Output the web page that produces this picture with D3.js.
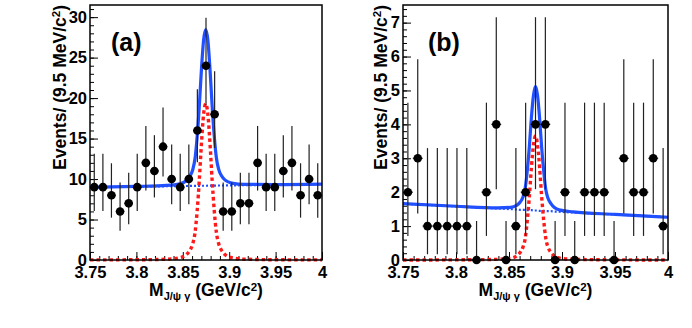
<!DOCTYPE html>
<html><head><meta charset="utf-8">
<script src="https://cdn.jsdelivr.net/npm/d3@7/dist/d3.min.js"></script>
<style>
body{margin:0;background:#fff}
svg{display:block}
text{font-family:"Liberation Sans",Arial,Helvetica,sans-serif;font-weight:bold;fill:#000}
</style>
</head><body>
<svg id="c" width="692" height="328"></svg>
<script>
// ---- bin centres (GeV/c^2), 27 bins over 3.75-4.0 ----
const binCenters = [3.7546,3.7639,3.7731,3.7824,3.7917,3.8009,3.8102,3.8194,3.8287,3.8380,
  3.8472,3.8565,3.8657,3.8750,3.8843,3.8935,3.9028,3.9120,3.9213,3.9306,3.9398,3.9491,
  3.9583,3.9676,3.9769,3.9861,3.9954];
const binWidth = 0.00926;

// ---- panel (a) data ----
const countsA = [9,9,8,6,7,9,12,11,14,10,9,10,16,24,18,6,6,7,7,12,9,9,11,12,8,10,8];
const errLoA  = [6.06,6.06,5.23,3.62,4.42,6.06,8.58,7.73,10.31,6.89,6.06,6.89,12.06,19.16,13.83,3.62,3.62,4.42,4.42,8.58,6.06,6.06,7.73,8.58,5.23,6.89,5.23];
const errHiA  = [13.11,13.11,11.95,9.58,10.77,13.11,16.56,15.42,18.83,14.27,13.11,14.27,21.08,29.94,23.31,9.58,9.58,10.77,10.77,16.56,13.11,13.11,15.42,16.56,11.95,14.27,11.95];

// ---- panel (b) data ----
const countsB = [2,3,1,1,1,1,1,0,2,4,0,1,2,4,4,0,2,0,2,2,2,0,3,2,2,3,1];
const errLoB  = [0.71,1.37,0.17,0.17,0.17,0.17,0.17,0,0.71,2.09,0,0.17,0.71,2.09,2.09,0,0.71,0,0.71,0.71,0.71,0,1.37,0.71,0.71,1.37,0.17];
const errHiB  = [4.64,5.92,3.30,3.30,3.30,3.30,3.30,1.15,4.64,7.16,1.15,3.30,4.64,7.16,7.16,1.15,4.64,1.15,4.64,4.64,4.64,1.15,5.92,4.64,4.64,5.92,3.30];

// ---- fit curves, panel (a) ----
const curveXA = [3.75,3.80,3.8327,3.8467,3.8537,3.8577,3.8607,3.8632,3.8655,3.8678,3.8701,3.8724,3.8747,
  3.8770,3.8793,3.8816,3.8839,3.8862,3.8887,3.8917,3.8957,3.9027,3.9167,3.95,4.0];
const sigA = [0.01,0.03,0.1,0.28,0.65,1.2,2.0,3.4,6.1,9.9,14.4,18.0,19.3,18.0,14.4,9.9,6.1,3.4,2.0,1.2,0.65,0.28,0.1,0.03,0.01];
const bkgA = [8.98,9.06,9.11,9.13,9.14,9.15,9.15,9.16,9.16,9.16,9.17,9.17,9.17,9.18,9.18,9.18,9.19,9.19,9.20,9.20,9.21,9.22,9.24,9.29,9.37];
const totA = [8.99,9.09,9.21,9.41,9.79,10.35,11.15,12.56,15.26,19.06,23.57,27.17,28.47,27.18,23.58,19.08,15.29,12.59,11.20,10.40,9.86,9.50,9.34,9.32,9.38];

// ---- fit curves, panel (b) ----
const curveXB = [3.75,3.80,3.8395,3.8513,3.8572,3.8606,3.8632,3.8653,3.8672,3.8692,3.8711,3.8731,3.875,
  3.8769,3.8789,3.8808,3.8828,3.8847,3.8868,3.8894,3.8928,3.8987,3.9105,3.95,4.0];
const sigB = [0,0.005,0.02,0.05,0.12,0.23,0.38,0.64,1.15,1.87,2.72,3.40,3.66,3.40,2.72,1.87,1.15,0.64,0.38,0.23,0.12,0.05,0.02,0.005,0];
const bkgB = [1.66,1.58,1.52,1.50,1.49,1.48,1.48,1.48,1.47,1.47,1.47,1.46,1.46,1.46,1.45,1.45,1.45,1.44,1.44,1.44,1.43,1.42,1.40,1.34,1.26];
const totB = [1.66,1.585,1.54,1.55,1.61,1.71,1.86,2.12,2.62,3.34,4.19,4.86,5.12,4.86,4.17,3.32,2.60,2.08,1.82,1.67,1.55,1.47,1.42,1.345,1.26];

// ---- axes ----
const xTicks = [3.75,3.8,3.85,3.9,3.95,4.0];
const xTickLabels = ["3.75","3.8","3.85","3.9","3.95","4"];
const yTicksA = [0,5,10,15,20,25,30];
const yTicksB = [0,1,2,3,4,5,6,7];
const yTitle = "Events/ (9.5 MeV/c";
const panelLabels = ["(a)","(b)"];

const BLUE = "#2050ff", RED = "#ff1a1a";
const svg = d3.select("#c");

function panel(cfg){
  const {x0,x1,yTop,yBot,ymax,counts,lo,hi,cx,sig,bkg,tot,yTicks,yMinorStep,label,titleX,labelX,id} = cfg;
  const x = d3.scaleLinear().domain([3.75,4.0]).range([x0,x1]);
  const y = d3.scaleLinear().domain([0,ymax]).range([yBot,yTop]);
  const g = svg.append("g");

  svg.append("clipPath").attr("id","clip"+id).append("rect")
    .attr("x",x0).attr("y",yTop).attr("width",x1-x0).attr("height",yBot-yTop+2);

  // minor ticks
  const xMinor = d3.range(0,26).map(i=>3.75+i*0.01);
  g.append("g").attr("transform",`translate(0,${yBot})`)
    .call(d3.axisBottom(x).tickValues(xMinor).tickSize(-4).tickFormat(""))
    .call(s=>s.select(".domain").remove())
    .call(s=>s.selectAll("line").attr("stroke","#000").attr("stroke-width",1));
  const yMinor = d3.range(0, Math.floor(ymax/yMinorStep+1e-6)+1).map(i=>i*yMinorStep);
  g.append("g").attr("transform",`translate(${x0},0)`)
    .call(d3.axisLeft(y).tickValues(yMinor).tickSize(-4).tickFormat(""))
    .call(s=>s.select(".domain").remove())
    .call(s=>s.selectAll("line").attr("stroke","#000").attr("stroke-width",1));

  // major ticks + labels
  g.append("g").attr("transform",`translate(0,${yBot})`)
    .call(d3.axisBottom(x).tickValues(xTicks).tickSize(-8).tickPadding(6)
      .tickFormat((d,i)=>xTickLabels[i]))
    .call(s=>s.select(".domain").remove())
    .call(s=>s.selectAll("line").attr("stroke","#000").attr("stroke-width",1))
    .call(s=>s.selectAll("text").attr("font-size",16.5).attr("font-family",null).attr("fill","#000"));
  g.append("g").attr("transform",`translate(${x0},0)`)
    .call(d3.axisLeft(y).tickValues(yTicks).tickSize(-8).tickPadding(3).tickFormat(d3.format("d")))
    .call(s=>s.select(".domain").remove())
    .call(s=>s.selectAll("line").attr("stroke","#000").attr("stroke-width",1))
    .call(s=>s.selectAll("text").attr("font-size",16.5).attr("font-family",null).attr("fill","#000"));

  // curves
  const cg = g.append("g").attr("clip-path",`url(#clip${id})`);
  const line = arr => d3.line().x((d,i)=>x(cx[i])).y((d,i)=>y(arr[i])).curve(d3.curveMonotoneX)(arr);
  cg.append("path").attr("d",line(tot)).attr("fill","none").attr("stroke",BLUE).attr("stroke-width",3.2);
  cg.append("path").attr("d",line(bkg)).attr("fill","none").attr("stroke",BLUE).attr("stroke-width",2.2).attr("stroke-dasharray","2,2");
  cg.append("path").attr("d",line(sig)).attr("fill","none").attr("stroke",RED).attr("stroke-width",3.4).attr("stroke-dasharray","3.5,3");

  // data points
  const dg = g.append("g");
  counts.forEach((n,i)=>{
    const px = x(binCenters[i]);
    dg.append("line").attr("x1",px).attr("x2",px).attr("y1",y(lo[i])).attr("y2",y(hi[i]))
      .attr("stroke","#222").attr("stroke-width",1.2);
    dg.append("line").attr("x1",x(binCenters[i]-binWidth/2)).attr("x2",x(binCenters[i]+binWidth/2))
      .attr("y1",y(n)).attr("y2",y(n)).attr("stroke","#222").attr("stroke-width",1.2);
    dg.append("circle").attr("cx",px).attr("cy",y(n)).attr("r",4.3).attr("fill","#000");
  });

  // frame
  g.append("rect").attr("x",x0).attr("y",yTop).attr("width",x1-x0).attr("height",yBot-yTop)
    .attr("fill","none").attr("stroke","#000").attr("stroke-width",1.5);

  // panel label
  g.append("text").attr("x",labelX).attr("y",51).attr("font-size",25).text(label);

  // y title
  const yt = g.append("text").attr("transform",`translate(${titleX},${yTop}) rotate(-90)`)
    .attr("text-anchor","end").attr("font-size",17.5);
  yt.append("tspan").text(yTitle);
  yt.append("tspan").attr("dy",-6).attr("font-size",11.5).text("2");
  yt.append("tspan").attr("dy",6).text(")");

  // x title
  const xt = g.append("text").attr("x",(x0+x1)/2).attr("y",296).attr("text-anchor","middle").attr("font-size",17.5);
  xt.append("tspan").text("M");
  xt.append("tspan").attr("dy",4).attr("font-size",11).text("J/\u03C8 \u03B3");
  xt.append("tspan").attr("dy",-4).text(" (GeV/c");
  xt.append("tspan").attr("dy",-5).attr("font-size",11.5).text("2");
  xt.append("tspan").attr("dy",5).text(")");
}

panel({id:"a",x0:90,x1:322,yTop:5,yBot:260,ymax:31.5,counts:countsA,lo:errLoA,hi:errHiA,
  cx:curveXA,sig:sigA,bkg:bkgA,tot:totA,yTicks:yTicksA,yMinorStep:1,label:panelLabels[0],titleX:66,labelX:111});
panel({id:"b",x0:403,x1:668,yTop:5,yBot:260,ymax:7.52,counts:countsB,lo:errLoB,hi:errHiB,
  cx:curveXB,sig:sigB,bkg:bkgB,tot:totB,yTicks:yTicksB,yMinorStep:0.2,label:panelLabels[1],titleX:387,labelX:428});
</script>
</body></html>
